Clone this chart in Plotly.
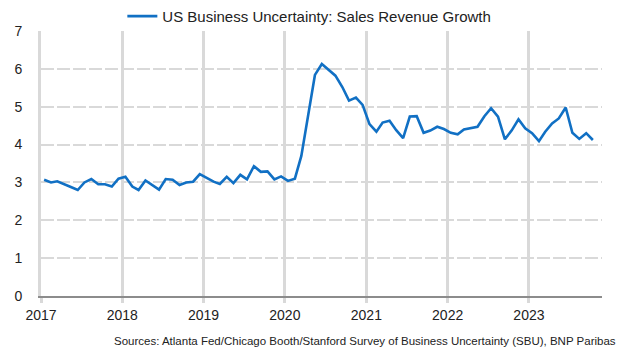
import pandas as pd
import plotly.graph_objects as go

series_name = "US Business Uncertainty: Sales Revenue Growth"
source_text = "Sources: Atlanta Fed/Chicago Booth/Stanford Survey of Business Uncertainty (SBU), BNP Paribas"

# Monthly observations, Jan 2017 - Oct 2023 (plotted mid-month)
months = [d.strftime("%Y-%m-%d")
          for d in pd.date_range("2017-01-01", periods=82, freq="MS") + pd.Timedelta(days=14)]

sales_revenue_growth = [
    3.07, 3.00, 3.03, 2.96, 2.88, 2.80, 3.00, 3.09, 2.95, 2.95, 2.89, 3.10,  # 2017
    3.15, 2.89, 2.80, 3.05, 2.94, 2.81, 3.09, 3.07, 2.93, 3.00, 3.02, 3.22,  # 2018
    3.12, 3.02, 2.96, 3.15, 2.98, 3.20, 3.08, 3.43, 3.28, 3.29, 3.08, 3.16,  # 2019
    3.04, 3.10, 3.70, 4.80, 5.84, 6.13, 5.98, 5.82, 5.52, 5.16, 5.24, 5.05,  # 2020
    4.54, 4.34, 4.58, 4.63, 4.38, 4.17, 4.74, 4.75, 4.31, 4.37, 4.47, 4.41,  # 2021
    4.31, 4.27, 4.40, 4.43, 4.47, 4.75, 4.96, 4.74, 4.14, 4.37, 4.67, 4.43,  # 2022
    4.30, 4.09, 4.34, 4.56, 4.69, 4.98, 4.31, 4.15, 4.30, 4.12,              # 2023
]

year_ticks = ["2017-01-01", "2018-01-01", "2019-01-01", "2020-01-01",
              "2021-01-01", "2022-01-01", "2023-01-01"]
year_labels = ["2017", "2018", "2019", "2020", "2021", "2022", "2023"]
y_ticks = [0, 1, 2, 3, 4, 5, 6, 7]

FONT = "Liberation Sans, Arial, sans-serif"
GRID = "#D9D9D9"
TXT = "#222222"

fig = go.Figure()
fig.add_trace(go.Scatter(
    x=months, y=sales_revenue_growth, mode="lines", name=series_name,
    line=dict(color="#1170C4", width=2.6), showlegend=True,
))

fig.update_layout(
    width=621, height=348,
    margin=dict(l=33, r=27, t=23, b=60, autoexpand=False),
    paper_bgcolor="white", plot_bgcolor="white",
    font=dict(family=FONT, size=14, color=TXT),
    showlegend=True,
    legend=dict(orientation="h", x=0.145, xanchor="left", y=1.055, yanchor="middle",
                font=dict(family=FONT, size=15, color=TXT),
                bgcolor="rgba(0,0,0,0)", borderwidth=0),
    xaxis=dict(
        type="date", range=["2017-01-01", "2023-11-25"],
        tickvals=year_ticks, ticktext=year_labels,
        showgrid=True, gridcolor=GRID, gridwidth=3,
        ticks="outside", ticklen=5, tickwidth=3, tickcolor=GRID,
        showline=True, linecolor="#8C8C8C", linewidth=2,
        tickfont=dict(family=FONT, size=14, color=TXT),
        zeroline=False,
    ),
    yaxis=dict(
        range=[0, 7], tickvals=y_ticks,
        showgrid=True, gridcolor=GRID, gridwidth=2, griddash="13px,3px",
        showline=True, linecolor=GRID, linewidth=3,
        ticks="", ticklabelstandoff=13,
        tickfont=dict(family=FONT, size=14, color=TXT),
        zeroline=False,
    ),
    annotations=[dict(
        text=source_text, xref="paper", yref="paper", x=1.0285, y=-0.17,
        xanchor="right", yanchor="middle", showarrow=False,
        font=dict(family=FONT, size=11.5, color=TXT),
    )],
)

fig.write_html("out.html")
